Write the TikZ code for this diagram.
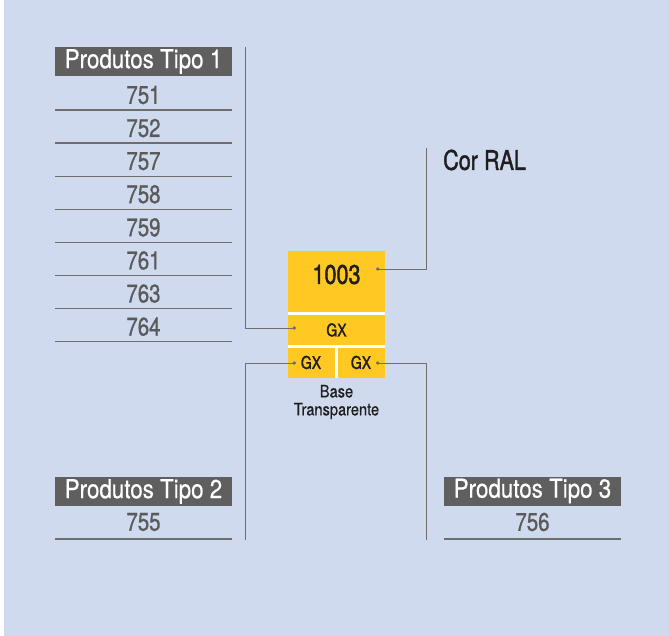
\documentclass[tikz,border=0pt]{standalone}
\usepackage{fontspec}
\setmainfont{TeX Gyre Heros}[FakeStretch=0.8,FakeBold=0.9]
\newfontfamily\hdrfont{TeX Gyre Heros}[FakeStretch=0.86,FakeBold=0.5]
\newfontfamily\medfont{TeX Gyre Heros}[FakeStretch=0.8,FakeBold=1.4]
\usetikzlibrary{arrows.meta}
\definecolor{bgblue}{RGB}{208,218,238}
\definecolor{hdrgray}{RGB}{95,95,95}
\definecolor{numgray}{RGB}{90,90,90}
\definecolor{linegray}{RGB}{110,110,110}
\definecolor{ralyellow}{RGB}{255,200,35}
\definecolor{darktext}{RGB}{30,30,30}
\tikzset{
  hdr/.style={fill=hdrgray, text=white, minimum width=177pt, minimum height=29pt, inner sep=0pt, font=\hdrfont\fontsize{26}{26}\selectfont},
  num/.style={text=numgray, inner sep=0pt, font=\fontsize{25.5}{25.5}\selectfont},
  sep/.style={draw=linegray, line width=1.3pt},
  conn/.style={draw=linegray, line width=0.9pt, -{Circle[length=3.4pt]}},
  dark/.style={text=darktext, inner sep=0pt}
}
\begin{document}
\begin{tikzpicture}[x=1pt,y=-1pt]
\useasboundingbox (0,0) rectangle (669,636);
\fill[white] (0,0) rectangle (669,636);
\fill[bgblue] (4,0) rectangle (669,636);

% Tipo 1
\node[hdr] (h1) at (143.5,61.5) {Produtos Tipo 1};
\foreach \t [count=\i from 0] in {751,752,757,758,759,761,763,764}{
  \node[num] (n\t) at (143.5,{95+33.1*\i}) {\t};
  \draw[sep] (55,{110+33.1*\i}) -- (232,{110+33.1*\i});
}

% Tipo 2
\node[hdr] (h2) at (143.5,491.5) {Produtos Tipo 2};
\node[num] (n755) at (143.5,522) {755};
\draw[sep] (55,539) -- (232,539);

% Tipo 3
\node[hdr] (h3) at (532.5,491) {Produtos Tipo 3};
\node[num] (n756) at (532.5,522) {756};
\draw[sep] (444,539) -- (621,539);

% Yellow block
\fill[ralyellow] (288,251) rectangle (385,378);
\draw[white, line width=3pt] (288,313) -- (385,313);
\draw[white, line width=3pt] (288,346) -- (385,346);
\draw[white, line width=3pt] (336.5,346) -- (336.5,378);
\node[dark, font=\medfont\fontsize{27}{27}\selectfont] (ral) at (336.5,274.5) {1003};
\node[dark, font=\medfont\fontsize{17.5}{17.5}\selectfont] (gxm) at (336.5,330) {GX};
\node[dark, font=\medfont\fontsize{17.5}{17.5}\selectfont] (gxl) at (311,362.5) {GX};
\node[dark, font=\medfont\fontsize{17.5}{17.5}\selectfont] (gxr) at (361,362.5) {GX};
\node[dark, text=darktext, align=center, font=\hdrfont\fontsize{17}{18}\selectfont] (base) at (336.5,402) {Base\\Transparente};

% Cor RAL
\node[dark, anchor=west, font=\medfont\fontsize{27}{27}\selectfont] (cor) at (443,160) {Cor RAL};

% connectors
\coordinate (t1) at (245,47);
\coordinate (t2) at (245,540);
\coordinate (t3) at (426,540);
\coordinate (tc) at (426,148);
\coordinate (d1) at (296,328);
\coordinate (d2) at (296,363);
\coordinate (d3) at (376,363);
\coordinate (dc) at (376,269);
\draw[conn] (t1) |- (d1);
\draw[conn] (t2) |- (d2);
\draw[conn] (t3) |- (d3);
\draw[conn] (tc) |- (dc);
\end{tikzpicture}
\end{document}
